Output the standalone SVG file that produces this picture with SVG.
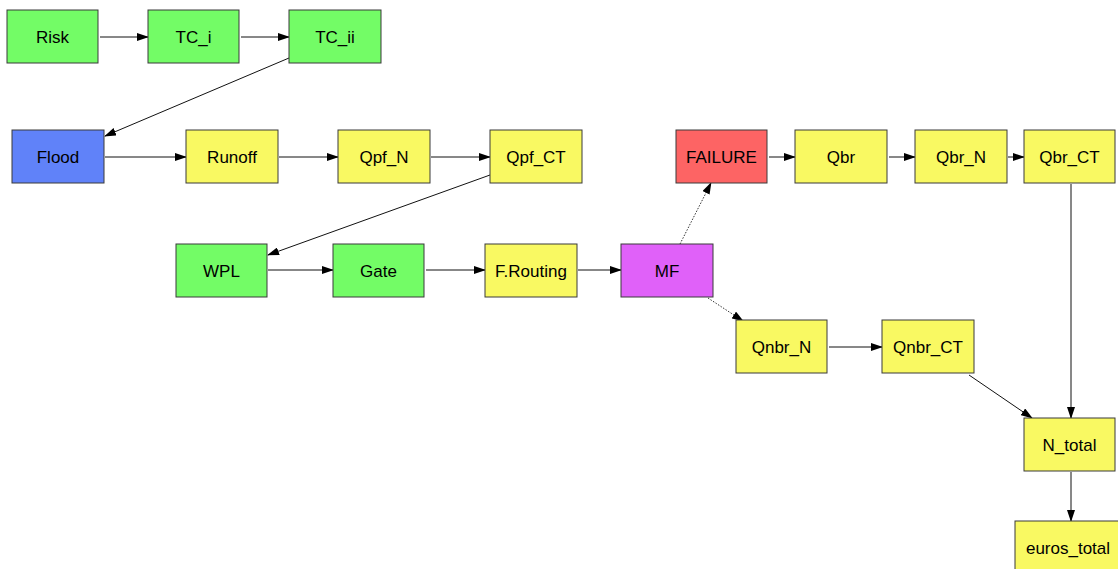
<svg xmlns="http://www.w3.org/2000/svg" width="1118" height="569" viewBox="0 0 1118 569">
  <style>
    .box { stroke: #3a3a3a; stroke-width: 1; }
    .g { fill: #73fc66; }
    .y { fill: #f9f962; }
    .b { fill: #6082f9; }
    .r { fill: #fd6464; }
    .m { fill: #e061f9; }
    text { font-family: "Liberation Sans", Arial, sans-serif; font-size: 17px; fill: #000; text-anchor: middle; }
    .edge { stroke: #111; stroke-width: 1; fill: none; marker-end: url(#arr); }
    .dot { stroke: #333; stroke-width: 1; stroke-dasharray: 1.5 1.5; fill: none; marker-end: url(#arr); }
  </style>
  <defs>
    <marker id="arr" markerWidth="12" markerHeight="8" refX="11" refY="4" orient="auto" markerUnits="userSpaceOnUse">
      <path d="M0,0 L12,4 L0,8 Z" fill="#000"/>
    </marker>
  </defs>
  <rect width="1118" height="569" fill="#fff"/>

  <g id="connectors">
    <line class="edge" x1="100" y1="37" x2="148" y2="37"/>
    <line class="edge" x1="241" y1="37" x2="289" y2="37"/>
    <line class="edge" x1="289" y1="58" x2="105" y2="136"/>
    <line class="edge" x1="105" y1="157" x2="186" y2="157"/>
    <line class="edge" x1="279" y1="157" x2="338" y2="157"/>
    <line class="edge" x1="431" y1="157" x2="490" y2="157"/>
    <line class="edge" x1="490" y1="175" x2="268" y2="255"/>
    <line class="edge" x1="268" y1="270" x2="333" y2="270"/>
    <line class="edge" x1="426" y1="270" x2="485" y2="270"/>
    <line class="edge" x1="578" y1="270" x2="621" y2="270"/>
    <line class="dot" x1="680" y1="244" x2="711" y2="183"/>
    <line class="dot" x1="708" y1="298" x2="743" y2="321"/>
    <line class="edge" x1="769" y1="157" x2="795" y2="157"/>
    <line class="edge" x1="889" y1="157" x2="915" y2="157"/>
    <line class="edge" x1="1008" y1="157" x2="1024" y2="157"/>
    <line class="edge" x1="829" y1="347" x2="882" y2="347"/>
    <line class="edge" x1="1071" y1="184" x2="1071" y2="418"/>
    <line class="edge" x1="969" y1="375" x2="1032" y2="418"/>
    <line class="edge" x1="1071" y1="472" x2="1071" y2="521"/>
  </g>

  <g id="Risk"><rect class="box g" x="7" y="10" width="91" height="53"/><text x="52.5" y="42.5">Risk</text></g>
  <g id="TC_i"><rect class="box g" x="148" y="10" width="91" height="53"/><text x="193.5" y="42.5">TC_i</text></g>
  <g id="TC_ii"><rect class="box g" x="289" y="10" width="92" height="53"/><text x="335" y="42.5">TC_ii</text></g>

  <g id="Flood"><rect class="box b" x="12" y="130" width="92" height="53"/><text x="58" y="162.5">Flood</text></g>
  <g id="Runoff"><rect class="box y" x="186" y="130" width="92" height="53"/><text x="232" y="162.5">Runoff</text></g>
  <g id="Qpf_N"><rect class="box y" x="338" y="130" width="92" height="53"/><text x="384" y="162.5">Qpf_N</text></g>
  <g id="Qpf_CT"><rect class="box y" x="490" y="130" width="92" height="53"/><text x="536" y="162.5">Qpf_CT</text></g>

  <g id="FAILURE"><rect class="box r" x="676" y="130" width="91" height="53"/><text x="721.5" y="162.5">FAILURE</text></g>
  <g id="Qbr"><rect class="box y" x="795" y="130" width="92" height="53"/><text x="841" y="162.5">Qbr</text></g>
  <g id="Qbr_N"><rect class="box y" x="915" y="130" width="92" height="53"/><text x="961" y="162.5">Qbr_N</text></g>
  <g id="Qbr_CT"><rect class="box y" x="1024" y="130" width="91" height="53"/><text x="1069.5" y="162.5">Qbr_CT</text></g>

  <g id="WPL"><rect class="box g" x="176" y="244" width="91" height="53"/><text x="221.5" y="276.5">WPL</text></g>
  <g id="Gate"><rect class="box g" x="333" y="244" width="91" height="53"/><text x="378.5" y="276.5">Gate</text></g>
  <g id="F.Routing"><rect class="box y" x="485" y="244" width="92" height="53"/><text x="531" y="276.5">F.Routing</text></g>
  <g id="MF"><rect class="box m" x="621" y="244" width="92" height="53"/><text x="667" y="276.5">MF</text></g>

  <g id="Qnbr_N"><rect class="box y" x="736" y="320" width="91" height="53"/><text x="781.5" y="352.5">Qnbr_N</text></g>
  <g id="Qnbr_CT"><rect class="box y" x="882" y="320" width="92" height="53"/><text x="928" y="352.5">Qnbr_CT</text></g>

  <g id="N_total"><rect class="box y" x="1024" y="418" width="91" height="53"/><text x="1069.5" y="450.5">N_total</text></g>
  <g id="euros_total"><rect class="box y" x="1015" y="521" width="106" height="53"/><text x="1068" y="553.5">euros_total</text></g>
</svg>
